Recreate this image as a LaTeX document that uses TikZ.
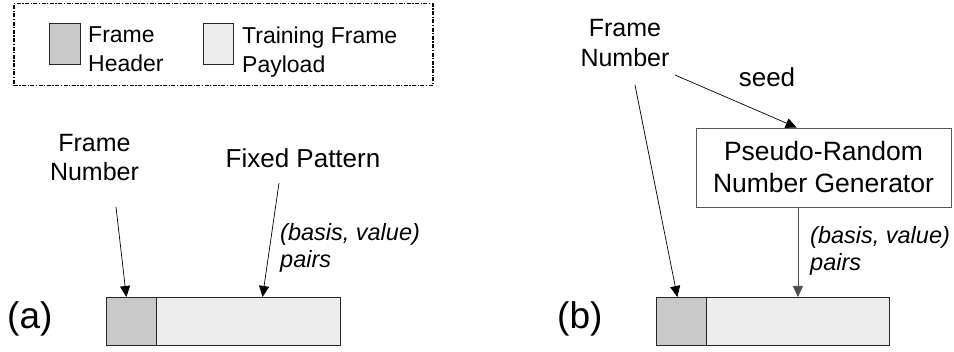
\documentclass[tikz,border=0pt]{standalone}
\usepackage{fontspec}
\setmainfont{Liberation Sans}
\usetikzlibrary{arrows.meta,calc}
\begin{document}
\begin{tikzpicture}[x=1pt,y=-1pt,
  txt/.style={inner sep=0pt,align=center},
  hdr/.style={draw=black!85,line width=0.9pt,fill=black!21,minimum height=48pt,inner sep=0pt,anchor=north west},
  pay/.style={draw=black!85,line width=0.9pt,fill=black!7,minimum height=48pt,inner sep=0pt,anchor=north west},
  arr/.style={line width=0.7pt,-{Triangle[length=11pt,width=10pt]}},
  lab/.style={inner sep=0pt,align=left,font=\fontsize{23.5}{27}\selectfont\itshape},
  big/.style={inner sep=0pt,font=\fontsize{37}{40}\selectfont}
]
\useasboundingbox (0,0) rectangle (954,352);
% legend
\node[draw=black,line width=1.5pt,dash pattern=on 4pt off 1.5pt on 1.3pt off 1.5pt,
      minimum width=419pt,minimum height=82pt,inner sep=0pt,anchor=north west] (legend) at (13,3) {};
\node[hdr,minimum width=31pt,minimum height=41pt] (swA) at (49,23) {};
\node[pay,minimum width=30pt,minimum height=41pt] (swB) at (203,23) {};
\node[inner sep=0pt,align=left,anchor=north west,font=\fontsize{23}{29}\selectfont] (lgA) at (88,26.5) {Frame\\Header};
\node[inner sep=0pt,align=left,anchor=north west,font=\fontsize{23}{29}\selectfont] (lgB) at (242,26.5) {Training Frame\\Payload};

% (a)
\node[txt,anchor=north,font=\fontsize{25}{29}\selectfont] (fnA) at (94.5,134) {Frame\\Number};
\node[txt,anchor=base,font=\fontsize{26}{30}\selectfont] (fp) at (303,168) {Fixed Pattern};
\node[lab,anchor=north west] (bvA) at (280,223) {(basis, value)\\pairs};
\node[hdr,minimum width=50pt] (hA) at (106,297) {};
\node[pay,minimum width=184pt] (pA) at (156,297) {};
\node[big,anchor=base west] (la) at (7,329) {(a)};
\coordinate (fnAout) at (116,207);
\coordinate (fpout) at (279,183);
\draw[arr] (fnAout) -- ($(hA.north west)!0.4!(hA.north east)$);
\draw[arr] (fpout) -- ($(pA.north west)!0.576!(pA.north east)$);

% (b)
\node[txt,anchor=north,font=\fontsize{25}{30}\selectfont] (fnB) at (625,19) {Frame\\Number};
\node[txt,anchor=base,font=\fontsize{26}{30}\selectfont] (seed) at (767,87) {seed};
\node[draw=black!65,line width=0.9pt,minimum width=255pt,minimum height=79pt,inner sep=0pt,
      align=center,font=\fontsize{26.5}{32}\selectfont] (prng) at (823.5,167.5) {Pseudo-Random\\Number Generator};
\node[lab,anchor=north west] (bvB) at (810,226) {(basis, value)\\pairs};
\node[hdr,minimum width=50pt] (hB) at (656,297) {};
\node[pay,minimum width=183pt] (pB) at (706,297) {};
\node[big,anchor=base west] (lb) at (557,329) {(b)};
\coordinate (fnBout) at (635,85);
\coordinate (seedout) at (675,75);
\draw[arr] (seedout) -- ($(prng.north west)!0.395!(prng.north east)$);
\draw[arr] (fnBout) -- ($(hB.north west)!0.42!(hB.north east)$);
\draw[arr,draw=black!70] (prng.south -| pB.north) -- (pB.north);
\end{tikzpicture}
\end{document}
